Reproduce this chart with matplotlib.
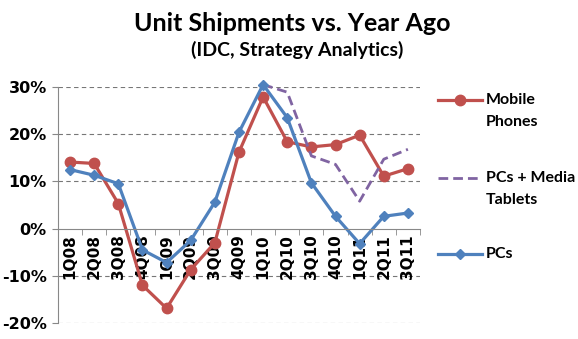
import numpy as np
import matplotlib.pyplot as plt
from matplotlib.lines import Line2D
from matplotlib.ticker import FuncFormatter

# quarterly year-over-year growth in unit shipments (%)
quarters = ["1Q08", "2Q08", "3Q08", "4Q08", "1Q09", "2Q09", "3Q09", "4Q09",
            "1Q10", "2Q10", "3Q10", "4Q10", "1Q11", "2Q11", "3Q11"]
mobile_phones = [14.1, 13.8, 5.3, -12.0, -16.9, -8.7, -3.0, 16.2,
                 27.9, 18.4, 17.3, 17.8, 19.8, 11.1, 12.7]
pcs_tablets = [np.nan, np.nan, np.nan, np.nan, np.nan, np.nan, np.nan, np.nan,
               30.5, 28.9, 15.4, 13.6, 5.8, 14.7, 16.8]
pcs = [12.5, 11.3, 9.5, -4.5, -7.2, -2.5, 5.6, 20.4,
       30.5, 23.5, 9.7, 2.6, -3.2, 2.6, 3.3]

red = "#C0504D"
blue = "#4F81BD"
purple = "#8064A2"

W, H = 578, 339
fig = plt.figure(figsize=(W / 100, H / 100), dpi=100)
ax = fig.add_axes([0.1003, 0.0472, 0.6263, 0.6962])

x = np.arange(len(quarters))

ax.plot(x, mobile_phones, "-o", color=red, lw=2.3, ms=7.5, clip_on=False)
ax.plot(x, pcs_tablets, color=purple, lw=2.0, ls=(0, (3.5, 1.8)), clip_on=False)
ax.plot(x, pcs, "-D", color=blue, lw=2.3, ms=5.5, clip_on=False)

ax.set_xlim(-0.5, len(quarters) - 0.5)
ax.set_ylim(-20, 30)
ax.set_yticks([-20, -10, 0, 10, 20, 30])
ax.yaxis.set_major_formatter(FuncFormatter(lambda v, p: "%d%%" % v))

# dashed gridlines, category axis crossing at 0
for v in [-20, -10, 10, 20, 30]:
    ax.axhline(v, color="#777777", lw=0.8, ls=(0, (4, 3)), zorder=0)

for s in ["top", "right"]:
    ax.spines[s].set_visible(False)
ax.spines["bottom"].set_position(("data", 0))
ax.spines["bottom"].set_color("#888888")
ax.spines["left"].set_color("#888888")

ax.set_xticks(x)
ax.set_xticklabels(quarters, rotation=90, fontweight="bold", fontsize=11,
                   family="DejaVu Sans", va="top")
ax.set_xticks(np.arange(-0.5, len(quarters), 1), minor=True)
ax.tick_params(axis="x", which="major", length=0, pad=4)
ax.tick_params(axis="x", which="minor", length=4, color="#888888")
ax.tick_params(axis="y", length=4, color="#888888", labelsize=11.5, pad=4)
for t in ax.get_yticklabels():
    t.set_fontweight("bold")

fig.text(0.505, 0.932, "Unit Shipments vs. Year Ago", ha="center", va="center",
         fontsize=18, fontweight="bold", family="Lato")
fig.text(0.514, 0.852, "(IDC, Strategy Analytics)", ha="center", va="center",
         fontsize=14, fontweight="bold", family="Lato")

# legend drawn beside the plot, key aligned with the first line of each label
legend_items = [
    ("Mobile", "Phones", dict(color=red, lw=2.3, marker="o", ms=7.5), 100),
    ("PCs + Media", "Tablets", dict(color=purple, lw=2.0, ls=(0, (3.5, 1.8))), 178),
    ("PCs", None, dict(color=blue, lw=2.3, marker="D", ms=5.5), 254),
]
for line1, line2, style, ypix in legend_items:
    yf = 1 - ypix / H
    key = Line2D([438 / W, 482 / W], [yf, yf], transform=fig.transFigure,
                 markevery=[], **style)
    fig.add_artist(key)
    if "marker" in style:
        fig.add_artist(Line2D([460 / W], [yf], transform=fig.transFigure,
                              color=style["color"], marker=style["marker"],
                              ms=style["ms"], lw=0))
    fig.text(486 / W, yf, line1, ha="left", va="center", fontsize=11.5,
             fontweight="bold", family="Lato")
    if line2:
        fig.text(486 / W, 1 - (ypix + 22) / H, line2, ha="left", va="center",
                 fontsize=11.5, fontweight="bold", family="Lato")

plt.savefig("out.png", dpi=100)
